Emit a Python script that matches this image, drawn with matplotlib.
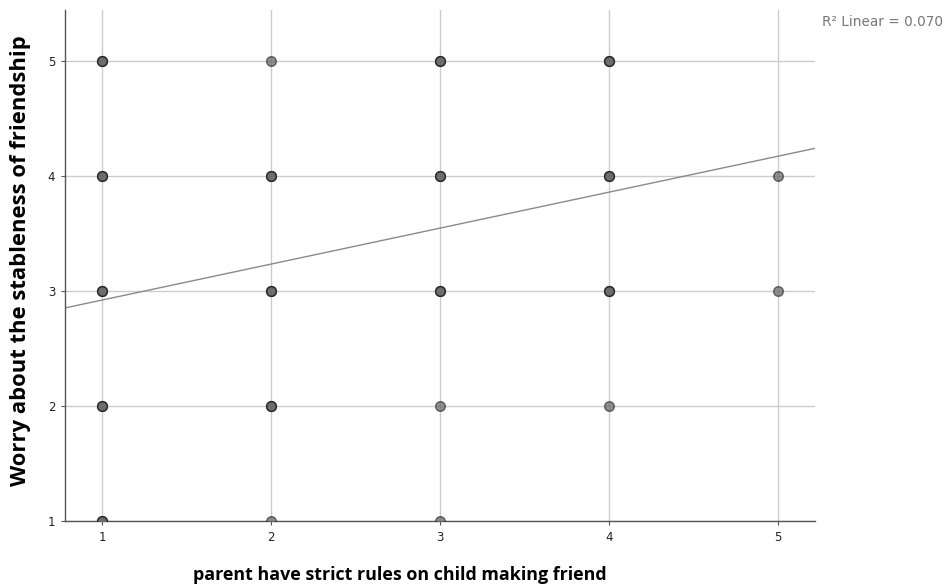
import matplotlib
matplotlib.use("Agg")
import matplotlib.pyplot as plt
import numpy as np

# scatter cells (x, y) and how many cases sit on each one
x_vals = [1, 1, 1, 1, 1, 2, 2, 2, 2, 2, 3, 3, 3, 3, 3, 4, 4, 4, 4, 5, 5]
y_vals = [5, 4, 3, 2, 1, 5, 4, 3, 2, 1, 5, 4, 3, 2, 1, 5, 4, 3, 2, 4, 3]
counts = [3, 3, 3, 3, 3, 1, 3, 3, 3, 1, 3, 3, 3, 1, 1, 3, 3, 3, 1, 1, 1]

# fit line
intercept = 2.607
slope = 0.3125
r2_text = "R\u00b2 Linear = 0.070"

x_ticks = [1, 2, 3, 4, 5]
y_ticks = [1, 2, 3, 4, 5]

fig = plt.figure(figsize=(9.46, 5.88), dpi=100)
ax = fig.add_axes([0.0687, 0.114, 0.7928, 0.869])

ax.set_xlim(0.781, 5.219)
ax.set_ylim(1.0, 5.44)

ax.grid(True, color="#cccccc", linewidth=1.0, zorder=0)
ax.set_axisbelow(True)

# regression line
lx = np.array(ax.get_xlim())
ax.plot(lx, intercept + slope * lx, color="#8a8a8a", linewidth=1.0, zorder=2)

# points, repeated per case so that stacked cells look darker
for x, y, n in zip(x_vals, y_vals, counts):
    ax.scatter([x] * n, [y] * n, s=48, facecolor=(0.42, 0.42, 0.42, 0.75),
               edgecolor=(0.08, 0.08, 0.08, 0.55), linewidth=1.1, zorder=3,
               clip_on=True)

ax.set_xticks(x_ticks)
ax.set_yticks(y_ticks)
ax.tick_params(axis="both", length=3, width=0.8, color="#555555",
               labelsize=8.5, labelcolor="#222222", pad=4)

for side in ["top", "right"]:
    ax.spines[side].set_visible(False)
for side in ["left", "bottom"]:
    ax.spines[side].set_color("#555555")
    ax.spines[side].set_linewidth(1.0)

ax.set_xlabel("parent have strict rules on child making friend",
              fontsize=12.9, fontweight="bold", family="Open Sans")
ax.xaxis.set_label_coords(0.447, -0.088)
ax.set_ylabel("Worry about the stableness of friendship",
              fontsize=15.8, fontweight="bold", family="Open Sans")
ax.yaxis.set_label_coords(-0.045, 0.51)

fig.text(0.869, 0.962, r2_text, fontsize=9.8, color="#777777", ha="left", va="center")

fig.savefig("out.png", dpi=100)
